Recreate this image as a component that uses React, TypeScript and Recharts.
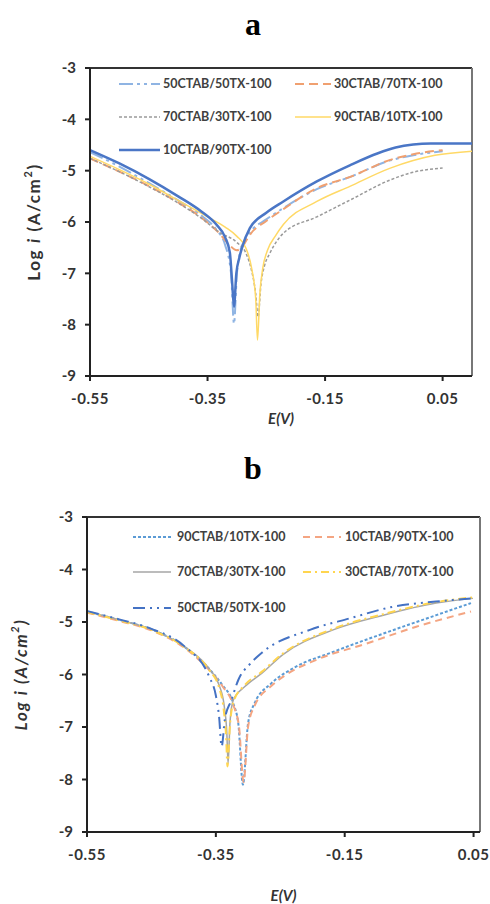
import React from 'react';
import { LineChart, Line, XAxis, YAxis, Legend, Label, ReferenceLine } from 'recharts';

const X_TICKS = [-0.55, -0.35, -0.15, 0.05];
const Y_TICKS = [-9, -8, -7, -6, -5, -4, -3];
const X_LABEL = 'E(V)';
const Y_LABEL = ['Log ', 'i', ' (A/cm', '2', ')'];

// ---------- panel a : [E (V), log i] ----------
const A_50CTAB_50TX: [number, number][] = [
  [-0.55, -4.64], [-0.5, -4.92], [-0.45, -5.24], [-0.4, -5.58], [-0.36, -5.88], [-0.335, -6.15],
  [-0.32, -6.45], [-0.31, -7.0], [-0.305, -7.98], [-0.3, -7.0], [-0.295, -6.6], [-0.288, -6.38],
  [-0.278, -6.2], [-0.25, -5.95], [-0.221, -5.73], [-0.164, -5.36], [-0.107, -5.12], [-0.039, -4.8],
  [0.0, -4.7], [0.05, -4.62],
];
const A_30CTAB_70TX: [number, number][] = [
  [-0.55, -4.76], [-0.5, -5.02], [-0.45, -5.3], [-0.4, -5.62], [-0.36, -5.92], [-0.33, -6.22],
  [-0.315, -6.42], [-0.3, -6.55], [-0.292, -6.5], [-0.285, -6.38], [-0.278, -6.25], [-0.25, -5.98],
  [-0.221, -5.75], [-0.164, -5.34], [-0.107, -5.12], [-0.039, -4.79], [0.0, -4.68], [0.05, -4.6],
];
const A_70CTAB_30TX: [number, number][] = [
  [-0.55, -4.76], [-0.5, -5.02], [-0.45, -5.31], [-0.4, -5.63], [-0.36, -5.93], [-0.33, -6.2],
  [-0.3, -6.4], [-0.285, -6.6], [-0.275, -6.95], [-0.268, -7.4], [-0.264, -7.85], [-0.259, -7.2],
  [-0.253, -6.85], [-0.244, -6.61], [-0.221, -6.22], [-0.164, -5.9], [-0.107, -5.57], [-0.039, -5.18],
  [0.0, -5.03], [0.05, -4.95],
];
const A_90CTAB_10TX: [number, number][] = [
  [-0.55, -4.72], [-0.5, -4.98], [-0.45, -5.26], [-0.4, -5.58], [-0.35, -5.9], [-0.32, -6.1],
  [-0.3, -6.28], [-0.285, -6.5], [-0.275, -6.9], [-0.268, -7.5], [-0.265, -8.3], [-0.261, -7.4],
  [-0.256, -6.9], [-0.248, -6.55], [-0.235, -6.28], [-0.221, -6.05], [-0.164, -5.6], [-0.107, -5.3],
  [-0.039, -4.95], [0.037, -4.7], [0.1, -4.62],
];
const A_10CTAB_90TX: [number, number][] = [
  [-0.55, -4.6], [-0.5, -4.86], [-0.45, -5.16], [-0.4, -5.5], [-0.36, -5.8], [-0.335, -6.05],
  [-0.32, -6.3], [-0.312, -6.6], [-0.308, -7.2], [-0.305, -7.65], [-0.301, -7.0], [-0.296, -6.7],
  [-0.291, -6.49], [-0.278, -6.12], [-0.25, -5.82], [-0.221, -5.6], [-0.164, -5.21], [-0.107, -4.89],
  [-0.06, -4.66], [-0.03, -4.55], [0.0, -4.49], [0.03, -4.47], [0.1, -4.47],
];

// ---------- panel b : [E (V), log i] ----------
const B_90CTAB_10TX: [number, number][] = [
  [-0.55, -4.8], [-0.5, -4.96], [-0.45, -5.14], [-0.4, -5.46], [-0.36, -5.9], [-0.34, -6.2],
  [-0.323, -6.55], [-0.315, -6.95], [-0.308, -8.1], [-0.3, -6.93], [-0.29, -6.55], [-0.264, -6.17],
  [-0.23, -5.88], [-0.168, -5.57], [-0.09, -5.22], [-0.008, -4.87], [0.046, -4.64],
];
const B_10CTAB_90TX: [number, number][] = [
  [-0.55, -4.82], [-0.5, -4.98], [-0.45, -5.16], [-0.4, -5.48], [-0.36, -5.92], [-0.34, -6.22],
  [-0.323, -6.58], [-0.314, -7.0], [-0.307, -8.05], [-0.3, -7.0], [-0.29, -6.6], [-0.264, -6.22],
  [-0.243, -6.02], [-0.194, -5.72], [-0.116, -5.41], [-0.039, -5.09], [0.046, -4.8],
];
const B_70CTAB_30TX: [number, number][] = [
  [-0.55, -4.8], [-0.5, -4.96], [-0.45, -5.14], [-0.4, -5.46], [-0.36, -5.9], [-0.345, -6.2],
  [-0.337, -6.6], [-0.333, -7.1], [-0.331, -7.69], [-0.328, -6.9], [-0.323, -6.49], [-0.305, -6.23],
  [-0.279, -5.98], [-0.246, -5.62], [-0.168, -5.15], [-0.09, -4.87], [-0.008, -4.64], [0.049, -4.55],
];
const B_30CTAB_70TX: [number, number][] = [
  [-0.55, -4.81], [-0.5, -4.97], [-0.45, -5.15], [-0.4, -5.47], [-0.36, -5.92], [-0.345, -6.25],
  [-0.338, -6.65], [-0.334, -7.2], [-0.332, -7.75], [-0.328, -6.95], [-0.322, -6.5], [-0.305, -6.2],
  [-0.279, -5.95], [-0.246, -5.6], [-0.168, -5.13], [-0.09, -4.85], [-0.008, -4.62], [0.049, -4.53],
];
const B_50CTAB_50TX: [number, number][] = [
  [-0.55, -4.79], [-0.5, -4.95], [-0.45, -5.13], [-0.4, -5.45], [-0.36, -6.05], [-0.35, -6.4],
  [-0.345, -6.8], [-0.341, -7.37], [-0.336, -6.85], [-0.326, -6.49], [-0.315, -6.1], [-0.297, -5.8],
  [-0.277, -5.57], [-0.204, -5.15], [-0.142, -4.93], [-0.075, -4.71], [-0.008, -4.61], [0.049, -4.55],
];

type Series = {
  name: string;
  points: [number, number][];
  color: string;
  width: number;
  dash?: string;
  col: number;
  row: number;
};

const SERIES_A: Series[] = [
  { name: '50CTAB/50TX-100', points: A_50CTAB_50TX, color: '#8fb4e3', width: 2, dash: '14 4 3 4 3 4', col: 0, row: 0 },
  { name: '30CTAB/70TX-100', points: A_30CTAB_70TX, color: '#f0a070', width: 2, dash: '9 5', col: 1, row: 0 },
  { name: '70CTAB/30TX-100', points: A_70CTAB_30TX, color: '#9a9a9a', width: 1.5, dash: '3 2', col: 0, row: 1 },
  { name: '90CTAB/10TX-100', points: A_90CTAB_10TX, color: '#ffd966', width: 1.5, col: 1, row: 1 },
  { name: '10CTAB/90TX-100', points: A_10CTAB_90TX, color: '#4a76c6', width: 2.5, col: 0, row: 2 },
];

const SERIES_B: Series[] = [
  { name: '90CTAB/10TX-100', points: B_90CTAB_10TX, color: '#5b9bd5', width: 2, dash: '3 2', col: 0, row: 0 },
  { name: '10CTAB/90TX-100', points: B_10CTAB_90TX, color: '#f4a582', width: 2, dash: '7 5', col: 1, row: 0 },
  { name: '70CTAB/30TX-100', points: B_70CTAB_30TX, color: '#a6a6a6', width: 1.5, col: 0, row: 1 },
  { name: '30CTAB/70TX-100', points: B_30CTAB_70TX, color: '#ffd54f', width: 2, dash: '8 4 2 4', col: 1, row: 1 },
  { name: '50CTAB/50TX-100', points: B_50CTAB_50TX, color: '#4472c4', width: 2, dash: '12 5 2 5 2 5', col: 0, row: 2 },
];

const FONT = 'Lato, "Open Sans", sans-serif';

type PanelProps = {
  series: Series[];
  width: number;
  height: number;
  margin: { top: number; right: number; bottom: number; left: number };
  yAxisWidth: number;
  xAxisHeight: number;
  xMax: number;
  yLabelX: number;
  yLabelItalic: boolean;
  xLabelDy: number;
  legendRows: number[];
  legendCols: { lx1: number; lx2: number; tx: number }[];
};

function Panel(p: PanelProps) {
  const legendContent = () => (
    <svg width={p.width} height={p.legendRows[2] + 20} style={{ display: 'block' }}>
      {p.series.map((s) => {
        const c = p.legendCols[s.col];
        const y = p.legendRows[s.row];
        return (
          <g key={s.name}>
            <line x1={c.lx1} x2={c.lx2} y1={y} y2={y} stroke={s.color} strokeWidth={s.width} strokeDasharray={s.dash} />
            <text x={c.tx} y={y} dy="0.35em" fontFamily={FONT} fontSize={12.5} fontWeight={700} fill="#404040">
              {s.name}
            </text>
          </g>
        );
      })}
    </svg>
  );

  return (
    <LineChart width={p.width} height={p.height} margin={p.margin}>
      <XAxis
        type="number"
        dataKey="E"
        domain={[-0.55, p.xMax]}
        ticks={X_TICKS}
        interval={0}
        allowDataOverflow
        height={p.xAxisHeight}
        tickFormatter={(v: number) => v.toFixed(2)}
        tick={{ fontFamily: FONT, fontSize: 15, fontWeight: 700, fill: '#333', letterSpacing: 0.5 }}
        tickMargin={12}
        tickSize={5}
        axisLine={{ stroke: '#222', strokeWidth: 2 }}
        tickLine={{ stroke: '#222', strokeWidth: 2 }}
      >
        <Label
          content={({ viewBox }: any) => (
            <text
              x={viewBox.x + viewBox.width / 2}
              y={viewBox.y + p.xLabelDy}
              textAnchor="middle"
              dominantBaseline="central"
              fontFamily={FONT}
              fontSize={15}
              fontWeight={700}
              fontStyle="italic"
              fill="#333"
            >
              {X_LABEL}
            </text>
          )}
        />
      </XAxis>
      <YAxis
        type="number"
        domain={[-9, -3]}
        ticks={Y_TICKS}
        interval={0}
        allowDataOverflow
        width={p.yAxisWidth}
        tick={{ fontFamily: FONT, fontSize: 15, fontWeight: 700, fill: '#333' }}
        tickMargin={9}
        tickSize={5}
        axisLine={{ stroke: '#222', strokeWidth: 2 }}
        tickLine={{ stroke: '#222', strokeWidth: 2 }}
      >
        <Label
          content={({ viewBox }: any) => (
            <text
              transform={`translate(${p.yLabelX}, ${viewBox.y + viewBox.height / 2}) rotate(-90)`}
              textAnchor="middle"
              dominantBaseline="central"
              fontFamily={FONT}
              fontSize={17}
              fontWeight={700}
              letterSpacing={1.6}
              fontStyle={p.yLabelItalic ? 'italic' : 'normal'}
              fill="#333"
            >
              <tspan>{Y_LABEL[0]}</tspan>
              <tspan fontStyle="italic">{Y_LABEL[1]}</tspan>
              <tspan>{Y_LABEL[2]}</tspan>
              <tspan fontSize={11} dy={-6}>{Y_LABEL[3]}</tspan>
              <tspan dy={6}>{Y_LABEL[4]}</tspan>
            </text>
          )}
        />
      </YAxis>
      <ReferenceLine y={-3} stroke="#333" strokeWidth={2} />
      <ReferenceLine x={p.xMax} stroke="#777" strokeWidth={2} />
      <Legend
        layout="horizontal"
        verticalAlign="middle"
        align="center"
        wrapperStyle={{ left: 0, top: 0, width: p.width }}
        content={legendContent}
      />
      {p.series.map((s) => (
        <Line
          key={s.name}
          name={s.name}
          data={s.points.map(([E, v]) => ({ E, v }))}
          dataKey="v"
          type="monotone"
          stroke={s.color}
          strokeWidth={s.width}
          strokeDasharray={s.dash}
          dot={false}
          activeDot={false}
          isAnimationActive={false}
        />
      ))}
    </LineChart>
  );
}

const titleStyle: React.CSSProperties = {
  position: 'absolute',
  left: 0,
  width: 506,
  textAlign: 'center',
  fontFamily: '"Liberation Serif", "Times New Roman", serif',
  fontWeight: 700,
  fontSize: 32,
  lineHeight: '32px',
  color: '#000',
};

export default function App() {
  return (
    <div style={{ position: 'absolute', left: 0, top: 0, width: 490, height: 904, background: '#fff', overflow: 'hidden' }}>
      <div style={{ ...titleStyle, top: 8 }}>a</div>
      <div style={{ ...titleStyle, top: 452 }}>b</div>
      <div style={{ position: 'absolute', left: 0, top: 0 }}>
        <Panel
          series={SERIES_A}
          width={490}
          height={440}
          margin={{ top: 68, right: 18, bottom: 4, left: 0 }}
          yAxisWidth={90}
          xAxisHeight={60}
          xMax={0.1}
          yLabelX={33}
          yLabelItalic={false}
          xLabelDy={42}
          legendRows={[84, 117, 150]}
          legendCols={[{ lx1: 119, lx2: 160, tx: 163 }, { lx1: 295, lx2: 331, tx: 334 }]}
        />
      </div>
      <div style={{ position: 'absolute', left: 0, top: 440 }}>
        <Panel
          series={SERIES_B}
          width={490}
          height={464}
          margin={{ top: 77, right: 10, bottom: 2, left: 0 }}
          yAxisWidth={87}
          xAxisHeight={70}
          xMax={0.06}
          yLabelX={20}
          yLabelItalic={true}
          xLabelDy={63}
          legendRows={[97, 132, 168]}
          legendCols={[{ lx1: 133, lx2: 171, tx: 177 }, { lx1: 303, lx2: 341, tx: 345 }]}
        />
      </div>
    </div>
  );
}
